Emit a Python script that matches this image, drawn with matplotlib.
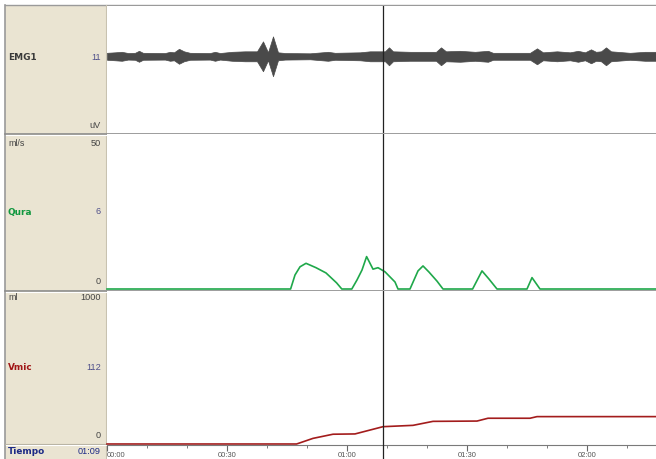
import numpy as np
import matplotlib
matplotlib.use('Agg')
import matplotlib.pyplot as plt
from matplotlib.patches import Rectangle

# time in seconds, cursor position
t_max = 137.25
cursor_t = 69

# EMG envelope (time, half amplitude)
emg_t = [0, 2, 3.7, 5.25, 7, 8, 9, 14.5, 15.75, 16.75, 18, 19.25, 20.75, 25.75, 27,
         28.25, 31.25, 34.5, 37.5, 39, 40.25, 41.5, 42.75, 44.5, 50.75, 55.25, 57,
         63.25, 65.75, 69.5, 70.5, 71.5, 75.75, 82.25, 83.5, 84.75, 88.25, 92, 95.25,
         96.5, 105.75, 107.5, 109, 112.5, 115.75, 117.75, 119.5, 121, 122.25, 123.5,
         124.75, 126, 130.75, 134.5, 137.25]
emg_amp = [3.5, 4, 4.5, 3.3, 3.5, 5.5, 3.5, 3.3, 4.5, 4, 7.5, 5, 3.5, 3.3, 4.5,
           3.3, 4.5, 5, 5, 15, 4, 20, 4, 3.3, 3, 4.5, 3.5,
           4, 5, 5, 9, 5, 4.5, 4.5, 9, 5, 5.5, 4.5, 5.5,
           3.5, 3.5, 8, 4, 5, 4, 5.5, 4, 7, 4.5, 5,
           9, 5, 3.5, 4.5, 4.5]

# flow rate (ml/s)
qura_t = [0, 45.9, 47, 48.25, 49.75, 52.25, 54.75, 57.4, 58.7, 61.2, 62.5, 63.75, 64.9,
          66.5, 67.75, 69.5, 72, 72.75, 75.75, 77.75, 79, 80.5, 82.5, 84, 91.4, 93.75,
          95.5, 97.5, 105, 106.25, 108.25, 137.25]
qura_v = [0, 0, 4.8, 7.6, 8.8, 7.3, 5.5, 2.1, 0, 0, 3.1, 6.5, 11.1,
          6.8, 7.3, 5.9, 2.4, 0, 0, 6.2, 7.9, 5.8, 2.7, 0, 0, 6.2,
          3.4, 0, 0, 3.9, 0, 0]

# voided volume (ml)
vmic_t = [0, 47.4, 51.5, 56.5, 62, 69, 76.5, 81.5, 92.5, 95.25, 105.75, 107.5, 137.25]
vmic_v = [0, 0, 38, 66, 68, 117, 126, 153, 155, 174, 174, 185, 185]

time_major = [0, 30, 60, 90, 120]
time_labels = ['00:00', '00:30', '01:00', '01:30', '02:00']
time_minor = [10, 20, 40, 50, 70, 80, 100, 110, 130]

W, H = 656, 459
beige = '#eae4d2'
sep = '#8c8c8c'


def rect(x0, y0, x1, y1):
    return [x0 / W, 1 - y1 / H, (x1 - x0) / W, (y1 - y0) / H]


fig = plt.figure(figsize=(W / 100, H / 100), dpi=100)
fig.patch.set_facecolor('white')

# overlay in pixel coords for the frame
ov = fig.add_axes([0, 0, 1, 1])
ov.set_xlim(0, W)
ov.set_ylim(H, 0)
ov.axis('off')
ov.add_patch(Rectangle((5, 5), 101, H - 5, facecolor=beige, edgecolor='none'))
ov.plot([5, W], [5, 5], color='#9a9a9a', lw=1)
ov.plot([5, 5], [5, H], color='#9a9a9a', lw=1.2)
ov.plot([106, 106], [5, H], color='#c8c2b0', lw=0.8)
for y in [133.5, 290.5]:
    ov.plot([5, W], [y, y], color=sep, lw=1.2)
    ov.plot([6, 106], [y + 1.5, y + 1.5], color='white', lw=0.8)
ov.plot([5, 106], [443.5, 443.5], color='#b5b0a0', lw=0.8)
ov.plot([6, 106], [445, 445], color='white', lw=0.8)

ax_e = fig.add_axes(rect(107, 5.5, W, 133))
ax_q = fig.add_axes(rect(107, 134, W, 290))
ax_v = fig.add_axes(rect(107, 291, W, 445))
ax_t = fig.add_axes(rect(107, 445, W, H))

for ax in [ax_e, ax_q, ax_v, ax_t]:
    ax.set_xlim(0, t_max)
    for s in ax.spines.values():
        s.set_visible(False)
    ax.set_yticks([])
    ax.axvline(cursor_t, color='#222222', lw=0.9, zorder=5)

for ax in [ax_e, ax_q, ax_v]:
    ax.set_xticks([])

# EMG
amp = np.array(emg_amp)
ax_e.fill_between(emg_t, -amp, amp, color='#4a4a4a', lw=0.5, edgecolor='#4a4a4a')
ax_e.set_ylim(-77, 51)

# Qura
ax_q.plot(qura_t, qura_v, color='#1fa84a', lw=1.2, clip_on=False)
ax_q.set_ylim(-0.34, 53.08)

# Vmic
ax_v.plot(vmic_t, vmic_v, color='#a31c1c', lw=1.2, clip_on=False)
ax_v.set_ylim(-6.8, 1034)

# time axis
ax_t.set_ylim(0, 1)
ax_t.spines['top'].set_visible(True)
ax_t.spines['top'].set_color('#7a7a7a')
ax_t.xaxis.set_ticks_position('top')
ax_t.set_xticks(time_major)
ax_t.set_xticks(time_minor, minor=True)
ax_t.tick_params(axis='x', which='major', direction='in', length=4, color='#666666',
                 labeltop=False, labelbottom=False)
ax_t.tick_params(axis='x', which='minor', direction='in', length=2, color='#666666')
for t, lab in zip(time_major, time_labels):
    ax_t.text(t, 0.28, lab, ha='left' if t == 0 else 'center', va='center',
              fontsize=5.5, color='#555555', family='Liberation Sans')

# left panel labels
name_kw = dict(fontsize=6.4, fontweight='bold', va='center', ha='left')
num_kw = dict(fontsize=6.6, va='center', ha='right', family='Liberation Sans')
unit_kw = dict(fontsize=6.4, va='center', ha='left', family='Liberation Sans',
               color='#444444')
ov.text(8, 57, 'EMG1', color='#3a3a3a', **name_kw)
ov.text(101, 57, '11', color='#50508a', **num_kw)
ov.text(101, 125, 'uV', color='#444444', **num_kw)

ov.text(8, 143, 'ml/s', **unit_kw)
ov.text(101, 143, '50', color='#444444', **num_kw)
ov.text(8, 212, 'Qura', color='#10973e', **name_kw)
ov.text(101, 212, '6', color='#50508a', **num_kw)
ov.text(101, 281, '0', color='#444444', **num_kw)

ov.text(8, 298, 'ml', **unit_kw)
ov.text(101, 298, '1000', color='#444444', **num_kw)
ov.text(8, 367, 'Vmic', color='#a01616', **name_kw)
ov.text(101, 367, '112', color='#50508a', **num_kw)
ov.text(101, 436, '0', color='#444444', **num_kw)

ov.text(8, 452, 'Tiempo', color='#1c2a86', **name_kw)
ov.text(101, 452, '01:09', color='#1c2a86', **num_kw)

fig.savefig('out.png', dpi=100)
